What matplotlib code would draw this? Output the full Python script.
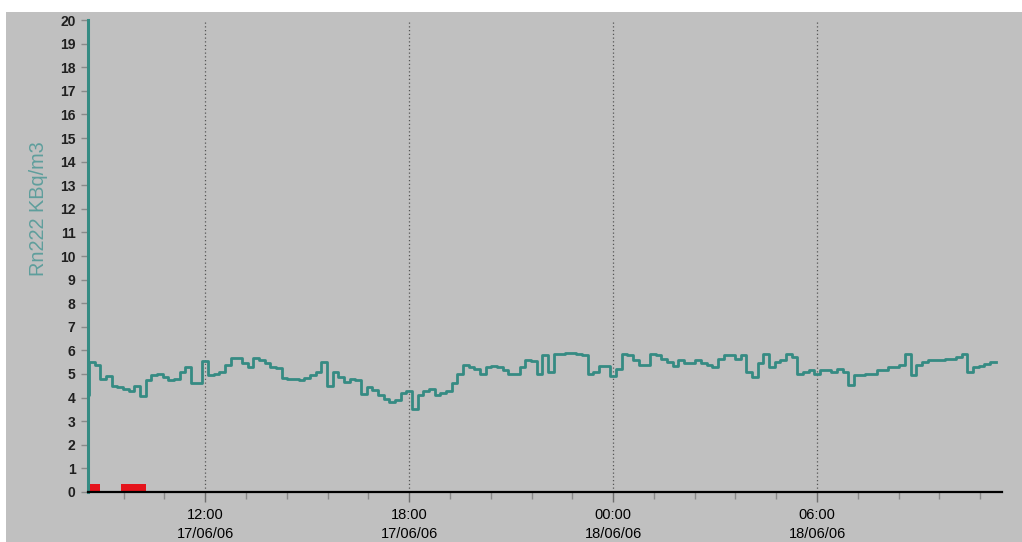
import matplotlib
matplotlib.use("Agg")
import matplotlib.pyplot as plt
from matplotlib.patches import Rectangle
from matplotlib.ticker import FixedLocator, MultipleLocator
import numpy as np

# Rn222 readings, one every 10 minutes from 17/06/06 08:35 (hours counted from 17/06 00:00)
start_hour = 8 + 35 / 60
step_minutes = 10
first_reading = 4.1   # value just before the first logged step
rn222 = [
    5.5, 5.4, 4.8, 4.9, 4.5, 4.45, 4.38, 4.3, 4.5, 4.05,
    4.75, 4.95, 5.0, 4.88, 4.74, 4.77, 5.1, 5.3, 4.6, 4.6,
    5.55, 4.95, 5.0, 5.1, 5.4, 5.68, 5.68, 5.47, 5.3, 5.68,
    5.6, 5.47, 5.3, 5.25, 4.85, 4.8, 4.8, 4.74, 4.81, 4.95,
    5.1, 5.5, 4.5, 5.1, 4.88, 4.67, 4.77, 4.74, 4.17, 4.45,
    4.31, 4.1, 3.95, 3.82, 3.9, 4.18, 4.3, 3.5, 4.1, 4.3,
    4.35, 4.1, 4.2, 4.3, 4.6, 5.0, 5.4, 5.3, 5.2, 5.0,
    5.3, 5.35, 5.3, 5.15, 5.0, 5.0, 5.3, 5.6, 5.55, 5.0,
    5.8, 5.1, 5.85, 5.85, 5.9, 5.9, 5.85, 5.8, 5.0, 5.1,
    5.35, 5.35, 4.9, 5.2, 5.85, 5.8, 5.6, 5.4, 5.4, 5.85,
    5.8, 5.65, 5.5, 5.35, 5.6, 5.45, 5.45, 5.6, 5.45, 5.37,
    5.3, 5.65, 5.8, 5.8, 5.65, 5.8, 5.1, 4.88, 5.45, 5.86,
    5.3, 5.5, 5.58, 5.86, 5.72, 5.02, 5.1, 5.16, 5.02, 5.16,
    5.16, 5.1, 5.23, 5.1, 4.52, 4.95, 4.95, 5.02, 5.02, 5.16,
    5.16, 5.3, 5.3, 5.37, 5.86, 4.95, 5.37, 5.5, 5.58, 5.58,
    5.58, 5.65, 5.65, 5.72, 5.86, 5.1, 5.3, 5.32, 5.42, 5.5,
]

# alarm flags drawn as red blocks on the baseline
alarm_start = [8.62, 9.53]
alarm_end = [8.91, 10.26]
alarm_level = 0.34

tick_hours = [12, 18, 24, 30]
tick_labels = ["12:00\n17/06/06", "18:00\n17/06/06", "00:00\n18/06/06", "06:00\n18/06/06"]

teal = "#358b83"
grey_bg = "#c0c0c0"
sans = ["Liberation Sans", "DejaVu Sans"]

fig = plt.figure(figsize=(10.22, 5.42), dpi=100, facecolor=grey_bg)
ax = fig.add_axes([0.0861, 0.0923, 0.8943, 0.8707])
ax.set_facecolor(grey_bg)

# white frame strips of the original window capture
fig.add_artist(Rectangle((0, 1 - 12 / 542), 1, 12 / 542, transform=fig.transFigure,
                         facecolor="white", edgecolor="none", zorder=-1))
fig.add_artist(Rectangle((0, 0), 6 / 1022, 1, transform=fig.transFigure,
                         facecolor="white", edgecolor="none", zorder=-1))

t = start_hour + np.arange(len(rn222) + 1) * step_minutes / 60
tt = np.concatenate([[start_hour - step_minutes / 60], t])
vals = [first_reading] + rn222 + [rn222[-1]]
ax.step(tt, vals, where="post", color=teal, lw=2.0, zorder=3)

for a, b in zip(alarm_start, alarm_end):
    ax.bar(a, alarm_level, width=b - a, align="edge", color="#e5141c", zorder=4)

ax.set_xlim(8.55, 35.44)
ax.set_ylim(0, 20)

ax.xaxis.set_major_locator(FixedLocator(tick_hours))
ax.set_xticklabels(tick_labels, family=sans, fontsize=10.5, linespacing=1.45, va="top")
ax.xaxis.set_minor_locator(MultipleLocator(1.2))
ax.grid(axis="x", which="major", color="#555555", ls=(0, (1, 2)), lw=0.9)

ax.yaxis.set_major_locator(MultipleLocator(1))
ax.yaxis.set_minor_locator(MultipleLocator(0.2))
for lab in ax.get_yticklabels():
    lab.set_family(sans)
    lab.set_fontweight("bold")
    lab.set_fontsize(10)

ax.tick_params(axis="x", which="major", length=7, width=1, color="#6e6e6e", pad=4.5)
ax.tick_params(axis="x", which="minor", length=5, width=1, color="#8a8a8a")
ax.tick_params(axis="y", which="major", length=5, width=1, color="#8a8a8a", pad=4,
               labelcolor="#202020")
ax.tick_params(axis="y", which="minor", length=2, width=0.8, color="#6fa8a2", direction="inout")

for side in ("top", "right"):
    ax.spines[side].set_visible(False)
ax.spines["left"].set_color(teal)
ax.spines["left"].set_linewidth(2.2)
ax.spines["bottom"].set_color("black")
ax.spines["bottom"].set_linewidth(1.6)
ax.spines["bottom"].set_zorder(5)

ax.set_ylabel("Rn222 KBq/m3", color="#5e9e9c", fontsize=14.3, family=sans)
ax.yaxis.set_label_coords(-0.044, 0.60)

fig.savefig("out.png", dpi=100, facecolor=grey_bg)
